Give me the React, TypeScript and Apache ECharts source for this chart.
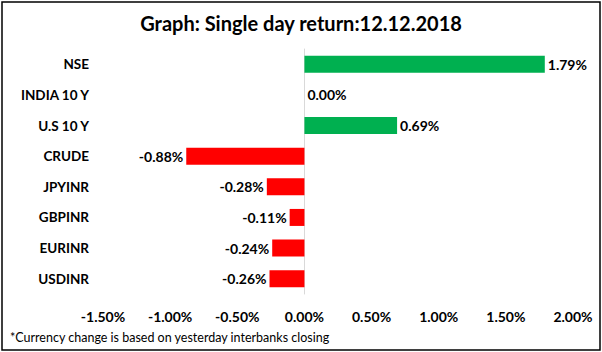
import React, { useEffect, useRef } from "react";
import * as echarts from "echarts";

const categories = ["NSE", "INDIA 10 Y", "U.S 10 Y", "CRUDE", "JPYINR", "GBPINR", "EURINR", "USDINR"];
const values = [1.79, 0.0, 0.69, -0.88, -0.28, -0.11, -0.24, -0.26];
const titleText = "Graph: Single day return:12.12.2018";
const footnote = "*Currency change is based on yesterday interbanks closing";

const FONT = "Lato, 'Open Sans', sans-serif";

export default function App() {
  const ref = useRef<HTMLDivElement>(null);
  useEffect(() => {
    if (!ref.current) return;
    const chart = echarts.init(ref.current, null, { renderer: "svg" });
    chart.setOption({
      animation: false,
      backgroundColor: "#ffffff",
      textStyle: { fontFamily: FONT },
      title: {
        text: titleText,
        left: "center",
        top: 8,
        textStyle: { fontFamily: FONT, fontSize: 20, fontWeight: "bold", color: "#000" },
      },
      grid: { left: 103, right: 29, top: 49, bottom: 58, containLabel: false },
      xAxis: {
        type: "value",
        min: -1.5,
        max: 2,
        interval: 0.5,
        axisLine: { show: false },
        axisTick: { show: false },
        splitLine: { show: false },
        axisLabel: {
          margin: 15,
          formatter: (v: number) => v.toFixed(2) + "%",
          fontFamily: FONT,
          fontSize: 14,
          fontWeight: "bold",
          color: "#000",
        },
      },
      yAxis: {
        type: "category",
        data: categories,
        inverse: true,
        axisLine: { show: true, onZero: true, lineStyle: { color: "#d9d9d9", width: 1 } },
        axisTick: { show: false },
        splitLine: { show: false },
        axisLabel: {
          margin: 14,
          fontFamily: FONT,
          fontSize: 13.5,
          fontWeight: "bold",
          color: "#000",
        },
      },
      series: [
        {
          type: "bar",
          barWidth: 17,
          data: values.map((v) => ({
            value: v,
            itemStyle: { color: v >= 0 ? "#00B050" : "#FF0000" },
            label: {
              show: true,
              position: v >= 0 ? "right" : "left",
              distance: 3,
              formatter: v.toFixed(2) + "%",
              fontFamily: FONT,
              fontSize: 14,
              fontWeight: "bold",
              color: "#000",
            },
          })),
        },
      ],
      graphic: [
        {
          type: "rect",
          shape: { x: 2, y: 2, width: 598, height: 348 },
          style: { fill: "none", stroke: "#000", lineWidth: 1.5 },
          silent: true,
        },
        {
          type: "text",
          x: 10,
          y: 337,
          style: {
            text: footnote,
            fontFamily: FONT,
            fontSize: 12.5,
            fill: "#000",
            verticalAlign: "middle",
          },
        },
      ],
    });
    return () => chart.dispose();
  }, []);
  return (
    <div
      ref={ref}
      style={{ position: "fixed", left: 0, top: 0, width: 602, height: 352 }}
    />
  );
}
